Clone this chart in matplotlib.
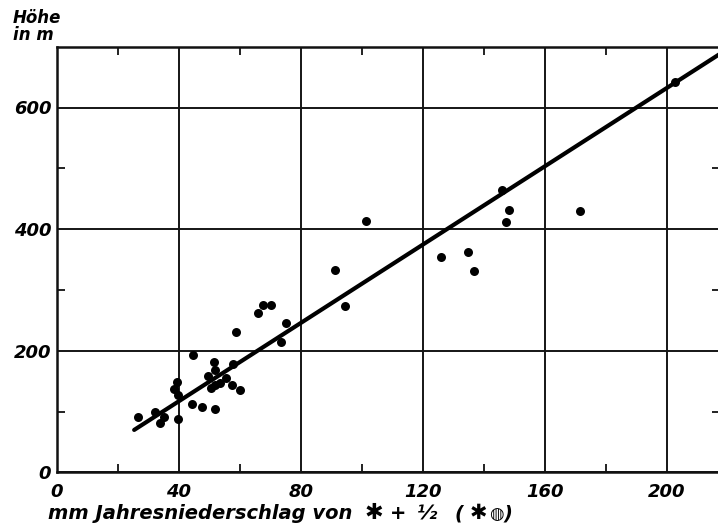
import numpy as np
import matplotlib
matplotlib.use("Agg")
import matplotlib.pyplot as plt
from matplotlib.ticker import FixedLocator

# Data: annual precipitation (mm, snow + 1/2 sleet) vs. altitude (m)
niederschlag_mm = [26.8, 32.2, 34.0, 35.2, 39.7, 39.3, 38.5, 39.9, 44.8, 44.5,
                   47.6, 51.8, 51.7, 51.9, 49.7, 50.5, 51.9, 53.5, 55.4, 57.6,
                   57.9, 60.1, 58.8, 66.1, 67.5, 70.3, 75.2, 73.5, 91.2, 94.5,
                   101.4, 125.9, 134.9, 136.8, 145.9, 148.3, 147.2, 171.6, 202.7]
hoehe_m = [91.6, 98.5, 80.7, 90.6, 88.3, 148.3, 136.7, 127.3, 193.2, 112.5,
           108.1, 103.8, 180.6, 168.5, 158.6, 138.4, 143.8, 146.6, 154.9, 143.8,
           178.4, 135.6, 230.6, 261.9, 275.6, 275.6, 245.1, 213.5, 332.0, 274.0,
           413.5, 353.5, 361.8, 330.5, 463.9, 432.1, 411.2, 429.3, 642.5]

# Regression line
fit_slope = 3.22
fit_intercept = -12.1
fit_x_range = [25.4, 220.0]

x_ticks = [0, 40, 80, 120, 160, 200]
y_ticks = [0, 200, 400, 600]
x_minor = [20, 60, 100, 140, 180]
y_minor = [100, 300, 500]

y_title = "Höhe\nin m"
x_title_main = "mm Jahresniederschlag von"
x_title_parts = ["\u2731", "+", "\u00bd", "(", "\u2731", "\u25cd", ")"]

W, H = 718, 526
fig = plt.figure(figsize=(W / 100, H / 100), dpi=100)
left_px, right_px, top_px, bottom_px = 56.7, 720.0, 46.7, 472.3
ax = fig.add_axes([left_px / W, (H - bottom_px) / H,
                   (right_px - left_px) / W, (bottom_px - top_px) / H])

ax.set_xlim(0, 217.5)
ax.set_ylim(0, 700)

font = dict(family="DejaVu Sans", weight="bold", style="oblique")

ax.xaxis.set_major_locator(FixedLocator(x_ticks))
ax.yaxis.set_major_locator(FixedLocator(y_ticks))
ax.xaxis.set_minor_locator(FixedLocator(x_minor))
ax.yaxis.set_minor_locator(FixedLocator(y_minor))
ax.set_xticklabels([str(v) for v in x_ticks], fontdict=font, fontsize=13)
ax.set_yticklabels([str(v) for v in y_ticks], fontdict=font, fontsize=13)

ax.tick_params(which="major", length=0, pad=4)
ax.tick_params(axis="x", which="major", pad=8)
ax.tick_params(which="minor", direction="in", length=6, width=1.3,
               top=True, right=True, bottom=True, left=True, color="#111111")

ax.grid(True, which="major", color="#151515", linewidth=1.4)
ax.set_axisbelow(True)
for side in ["left", "bottom", "top", "right"]:
    ax.spines[side].set_linewidth(1.8)
    ax.spines[side].set_color("#111111")

fx = np.array(fit_x_range)
ax.plot(fx, fit_intercept + fit_slope * fx, color="black", linewidth=3.0,
        solid_capstyle="round", zorder=3, clip_on=True)
ax.scatter(niederschlag_mm, hoehe_m, s=42, color="black", zorder=4,
           linewidths=0)

# y-axis title (two lines, top-left)
fig.text(13 / W, 1 - 9 / H, y_title, fontsize=12, **font, va="top",
         linespacing=0.95)

# x-axis title: words, then the weather symbols spaced as in the reference
baseline = 1 - 519 / H
fig.text(48 / W, baseline, x_title_main, fontsize=14, **font, va="baseline")
part_x = [374, 398, 427, 459, 478, 496, 508]
part_size = [16, 14, 14, 14, 15, 12, 14]
for txt, px, fs in zip(x_title_parts, part_x, part_size):
    fig.text(px / W, baseline, txt, fontsize=fs, **font, va="baseline",
             ha="center")

fig.savefig("out.png", dpi=100)
